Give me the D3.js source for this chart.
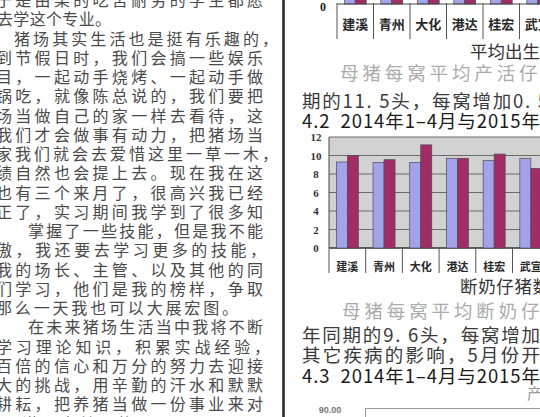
<!DOCTYPE html>
<html lang="zh">
<head>
<meta charset="utf-8">
<title>断奶仔猪数</title>
<style>
  html, body { margin: 0; padding: 0; background: #fff; }
  svg { display: block; }
  svg text { white-space: pre; }
</style>
</head>
<body>
<svg width="540" height="417"></svg>
<script src="https://cdn.jsdelivr.net/npm/d3@7/dist/d3.min.js"></script>
<script>

// farms (category axis, shared by both charts)
const categories = ["建溪", "青州", "大化", "港达", "桂宏", "武宣"]

// 4.1 average birth weight, kg (only the bottom of the bars shows)
const birthWt2014 = [1.38, 1.35, 1.40, 1.42, 1.36, 1.41]
const birthWt2015 = [1.45, 1.43, 1.47, 1.44, 1.46, 1.40]

// 4.2 weaned piglets per litter, Jan-Apr 2014 vs 2015
const weaned2014 = [9.3, 9.25, 9.25, 9.7, 9.45, 9.7]
const weaned2015 = [10.0, 9.55, 11.15, 9.7, 10.15, 8.6]
const weanedTicks = [0, 2, 4, 6, 8, 10, 12]

// 4.3 (only its top tick shows)
const chart3Ticks = [90]

const leftLines = [
  "于是由某的吃苦耐劳的学生都愿",
  "去学这个专业。",
  "猪场其实生活也是挺有乐趣的，",
  "到节假日时，我们会搞一些娱乐",
  "目，一起动手烧烤、一起动手做",
  "锅吃，就像陈总说的，我们要把",
  "场当做自己的家一样去看待，这",
  "我们才会做事有动力，把猪场当",
  "家我们就会去爱惜这里一草一木，",
  "绩自然也会提上去。现在我在这",
  "也有三个来月了，很高兴我已经",
  "正了，实习期间我学到了很多知",
  "掌握了一些技能，但是我不能",
  "傲，我还要去学习更多的技能，",
  "我的场长、主管、以及其他的同",
  "们学习，他们是我的榜样，争取",
  "那么一天我也可以大展宏图。",
  "在未来猪场生活当中我将不断",
  "学习理论知识，积累实战经验，",
  "百倍的信心和万分的努力去迎接",
  "大的挑战，用辛勤的汗水和默默",
  "耕耘，把养猪当做一份事业来对",
  "谱写出美丽的明天。"
]
// start / end of each line on the page
const leftSpans = [
  [-4, 263], [-3, 111], [14, 278], [-4, 263], [-4, 263], [-4, 263],
  [-4, 263], [-4, 263], [-4, 278], [-4, 263], [-4, 263], [-4, 263],
  [28, 263], [-4, 266], [-4, 263], [-4, 263], [-4, 238], [28, 263],
  [-4, 270], [-4, 263], [-4, 263], [-4, 263], [22, 190]
]

const svg = d3.select("svg")
const cjk = "'Noto Sans CJK SC', 'Noto Sans', sans-serif"

// ---- left column of running text
svg.append("g")
  .selectAll("text")
  .data(leftLines)
  .join("text")
    .attr("x", (d, i) => leftSpans[i][0])
    .attr("y", (d, i) => -1 + 19.25 * i)
    .attr("dominant-baseline", "central")
    .attr("textLength", (d, i) => leftSpans[i][1] - leftSpans[i][0])
    .attr("lengthAdjust", "spacing")
    .style("font-family", cjk)
    .style("font-size", "16px")
    .style("fill", "#4a4a4a")
    .text(d => d)

// column rule
svg.append("line")
  .attr("x1", 283.5).attr("x2", 283.5)
  .attr("y1", 0).attr("y2", 417)
  .style("stroke", "#2a2a2a")
  .style("stroke-width", 2.6)

const blue = "#a3a3ea", red = "#a22c64"

function groupedBars(g, x, y, a, b) {
  const inner = d3.scaleBand().domain([0, 1])
    .range([x.bandwidth() * 0.2, x.bandwidth() * 0.8])
  const rows = categories.map((c, i) => ({c, v: [a[i], b[i]]}))
  g.selectAll("g.grp")
    .data(rows)
    .join("g")
      .attr("class", "grp")
      .attr("transform", d => `translate(${x(d.c)},0)`)
    .selectAll("rect")
    .data(d => d.v)
    .join("rect")
      .attr("x", (d, j) => inner(j))
      .attr("width", inner.bandwidth())
      .attr("y", d => y(d))
      .attr("height", d => y(0) - y(d))
      .style("fill", (d, j) => j ? red : blue)
      .style("stroke", "#4a4a5a")
      .style("stroke-width", 0.7)
}

function categoryTable(g, x, top, bottom, labelY, size) {
  g.selectAll("line.div")
    .data(categories.concat(["end"]))
    .join("line")
      .attr("class", "div")
      .attr("x1", (d, i) => x.range()[0] + i * x.step())
      .attr("x2", (d, i) => x.range()[0] + i * x.step())
      .attr("y1", top).attr("y2", bottom)
      .style("stroke", "#555")
      .style("stroke-width", 1)
  g.selectAll("text.cat")
    .data(categories)
    .join("text")
      .attr("class", "cat")
      .attr("x", d => x(d) + x.bandwidth() / 2)
      .attr("y", labelY)
      .attr("text-anchor", "middle")
      .attr("dominant-baseline", "central")
      .style("font-family", cjk)
      .style("font-weight", 700)
      .style("font-size", size + "px")
      .style("fill", "#2a2a2a")
      .text(d => d)
}

// ---- chart 4.1 (mostly above the page)
const x1 = d3.scaleBand().domain(categories).range([337, 337 + 36.5 * 6])
const y1 = d3.scaleLinear().domain([0, 1.6]).range([4, -150])
const g1 = svg.append("g")
groupedBars(g1, x1, y1, birthWt2014, birthWt2015)
g1.append("line")
  .attr("x1", 337).attr("x2", 540).attr("y1", y1(0)).attr("y2", y1(0))
  .style("stroke", "#444")
categoryTable(g1, x1, 3, 39, 23, 13)
g1.append("text")
  .attr("x", 323).attr("y", 7)
  .attr("text-anchor", "middle").attr("dominant-baseline", "central")
  .style("font-family", "'Liberation Serif', serif")
  .style("font-weight", 700).style("font-size", "12px").style("fill", "#222")
  .text("0")

// ---- chart 4.2
const x2 = d3.scaleBand().domain(categories).range([329, 329 + 36.7 * 6])
const y2 = d3.scaleLinear().domain([0, 12]).range([248, 137])
const g2 = svg.append("g")
g2.append("rect")
  .attr("x", 329).attr("y", y2(12))
  .attr("width", 540 - 329).attr("height", y2(0) - y2(12))
  .style("fill", "#d2d2d2")
g2.selectAll("line.grid")
  .data(weanedTicks)
  .join("line")
    .attr("class", "grid")
    .attr("x1", 329).attr("x2", 540)
    .attr("y1", d => y2(d)).attr("y2", d => y2(d))
    .style("stroke", d => d ? "#6a6a6a" : "#333")
    .style("stroke-width", d => d ? 1 : 1.4)
g2.append("line")
  .attr("x1", 329).attr("x2", 329).attr("y1", y2(12)).attr("y2", y2(0))
  .style("stroke", "#444")
groupedBars(g2, x2, y2, weaned2014, weaned2015)
g2.selectAll("text.tick")
  .data(weanedTicks)
  .join("text")
    .attr("class", "tick")
    .attr("x", 316)
    .attr("y", d => y2(d))
    .attr("text-anchor", "middle")
    .attr("dominant-baseline", "central")
    .style("font-family", "'Liberation Serif', serif")
    .style("font-weight", 700)
    .style("font-size", "11px")
    .style("fill", "#333")
    .text(d => d)
categoryTable(g2, x2, 248, 273, 266, 11)

// ---- chart 4.3 (only its top edge shows)
const y3 = d3.scaleLinear().domain([0, 90]).range([600, 410])
const g3 = svg.append("g")
g3.append("rect")
  .attr("x", 365.5).attr("y", 408.5)
  .attr("width", 200).attr("height", 40)
  .style("fill", "#fff").style("stroke", "#999")
g3.selectAll("text")
  .data(chart3Ticks)
  .join("text")
    .attr("x", 330)
    .attr("y", d => y3(d))
    .attr("text-anchor", "middle")
    .attr("dominant-baseline", "central")
    .style("font-family", "'Liberation Sans', sans-serif")
    .style("font-weight", 700)
    .style("font-size", "9px")
    .style("fill", "#777")
    .text(d3.format(".2f"))

// ---- right column text (len = width the line is set to, where known)
const rightText = [
  {t: "平均出生重", x: 470, y: 50, fs: 17.5, c: "#333"},
  {t: "母猪每窝平均产活仔猪", x: 340, y: 72, fs: 18.5, c: "#ababab", len: 220},
  {t: "期的11. 5头，每窝增加0. 5", x: 302, y: 100, fs: 18.5, c: "#3a3a3a", len: 246},
  {t: "4.2  2014年1–4月与2015年", x: 302, y: 120, fs: 18.5, c: "#1a1a1a", len: 238},
  {t: "断奶仔猪数", x: 460, y: 285, fs: 17.5, c: "#333", len: 90},
  {t: "母猪每窝平均断奶仔猪", x: 342, y: 310, fs: 18.5, c: "#ababab", len: 220},
  {t: "年同期的9. 6头，每窝增加", x: 302, y: 334, fs: 18.5, c: "#3a3a3a", len: 238},
  {t: "其它疾病的影响，5月份开", x: 302, y: 354, fs: 18.5, c: "#3a3a3a", len: 238},
  {t: "4.3  2014年1–4月与2015年", x: 302, y: 375, fs: 18.5, c: "#1a1a1a", len: 238},
  {t: "产", x: 527, y: 392, fs: 15, c: "#999"}
]
svg.append("g")
  .selectAll("text")
  .data(rightText)
  .join("text")
    .attr("x", d => d.x)
    .attr("y", d => d.y)
    .attr("dominant-baseline", "central")
    .attr("textLength", d => d.len || null)
    .attr("lengthAdjust", d => d.len ? "spacing" : null)
    .style("font-family", cjk)
    .style("font-size", d => d.fs + "px")
    .style("fill", d => d.c)
    .text(d => d.t)

</script>
</body>
</html>
